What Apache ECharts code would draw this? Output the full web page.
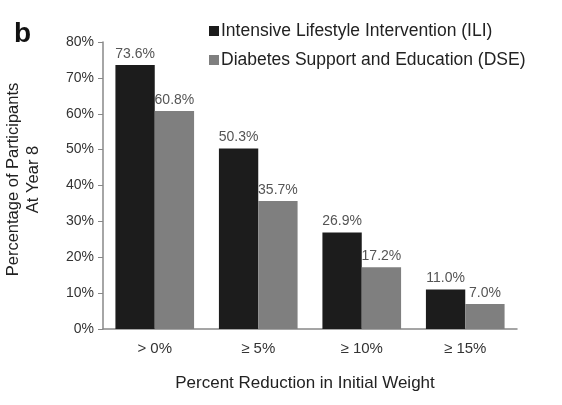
<!DOCTYPE html>
<html>
<head>
<meta charset="utf-8">
<script src="https://cdn.jsdelivr.net/npm/echarts@6/dist/echarts.min.js"></script>
<style>
  html, body { margin: 0; padding: 0; background: #fff; }
  #chart { width: 562px; height: 405px; }
</style>
</head>
<body>
<div id="chart"></div>
<script>
// categories along the x axis
const categories = ['> 0%', '≥ 5%', '≥ 10%', '≥ 15%'];
// series values (percent of participants at year 8)
const iliValues = [73.6, 50.3, 26.9, 11.0];
const dseValues = [60.8, 35.7, 17.2, 7.0];
const seriesNames = ['Intensive Lifestyle Intervention (ILI)', 'Diabetes Support and Education (DSE)'];

const font = 'Liberation Sans, Arial, sans-serif';
const chart = echarts.init(document.getElementById('chart'));

const labelOpt = {
    show: true,
    position: 'top',
    distance: 4,
    color: '#555',
    fontSize: 14,
    fontFamily: font,
    formatter: p => p.value.toFixed(1) + '%'
};

chart.setOption({
    animation: false,
    title: {
        text: 'b',
        left: 9,
        top: 15,
        textStyle: { fontSize: 28, fontWeight: 'bold', color: '#111', fontFamily: font }
    },
    legend: {
        orient: 'vertical',
        left: 204,
        top: 17,
        itemWidth: 10,
        itemHeight: 10,
        itemGap: 11,
        icon: 'rect',
        data: seriesNames,
        textStyle: { fontSize: 17.5, color: '#222', fontFamily: font, padding: [0, 0, 0, -3] }
    },
    grid: { left: 103, right: 45, top: 42, bottom: 76, outerBoundsMode: 'none' },
    xAxis: {
        type: 'category',
        data: categories,
        name: 'Percent Reduction in Initial Weight',
        nameLocation: 'middle',
        nameGap: 46,
        nameTextStyle: { fontSize: 17, color: '#222', fontFamily: font, padding: [0, 10, 0, 0] },
        axisLine: { lineStyle: { color: '#888', width: 1.5 } },
        axisTick: { show: false },
        axisLabel: { fontSize: 15, color: '#333', fontFamily: font, margin: 12 }
    },
    yAxis: {
        type: 'value',
        min: 0,
        max: 80,
        interval: 10,
        name: 'Percentage of Participants\nAt Year 8',
        nameLocation: 'middle',
        nameGap: 60,
        nameTextStyle: { fontSize: 16.5, color: '#222', fontFamily: font, lineHeight: 20, padding: [0, 0, 0, 12] },
        axisLine: { show: true, lineStyle: { color: '#888', width: 1.5 } },
        axisTick: { show: true, length: 5, lineStyle: { color: '#888' } },
        splitLine: { show: false },
        axisLabel: { fontSize: 14, color: '#333', fontFamily: font, margin: 9, formatter: '{value}%' }
    },
    series: [
        {
            name: seriesNames[0],
            type: 'bar',
            data: iliValues,
            barGap: '0%',
            barCategoryGap: '24%',
            itemStyle: { color: '#1c1c1c' },
            label: labelOpt
        },
        {
            name: seriesNames[1],
            type: 'bar',
            data: dseValues,
            itemStyle: { color: '#7f7f7f' },
            label: labelOpt
        }
    ]
});
</script>
</body>
</html>
